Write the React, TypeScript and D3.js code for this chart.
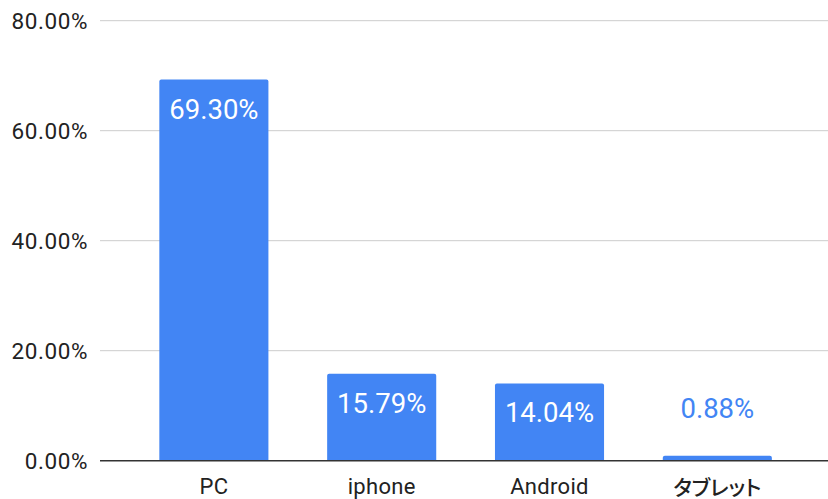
import React from "react";
import * as d3 from "d3";

const categories = ["PC", "iphone", "Android", "タブレット"];
const values = [69.3, 15.79, 14.04, 0.88];
const yTicks = [0, 20, 40, 60, 80];

const W = 828;
const H = 499;

export default function App() {
  const x = d3.scaleBand<string>().domain(categories).range([100.6, 830.6]).paddingInner(0.35).paddingOuter(0.35);
  const y = d3.scaleLinear().domain([0, 80]).range([460.7, 20.7]);
  const fmt = (v: number) => v.toFixed(2) + "%";
  const font = "Roboto, 'Noto Sans CJK JP', sans-serif";
  const r = 2;
  return (
    <svg width={W} height={H} style={{ position: "absolute", left: 0, top: 0, background: "#fff" }}>
      {yTicks.map((t) => (
        <g key={t}>
          {t !== 0 && <line x1={100} x2={828} y1={y(t)} y2={y(t)} stroke="#cccccc" strokeWidth={1} />}
          <text x={88} y={y(t)} dy="0.36em" textAnchor="end" fontFamily={font} fontSize={22.5} letterSpacing={0.6} fill="#222">
            {fmt(t)}
          </text>
        </g>
      ))}
      {categories.map((c, i) => {
        const x0 = x(c)!;
        const bw = x.bandwidth();
        const yt = y(values[i]);
        const yb = y(0);
        const h = yb - yt;
        const rr = Math.min(r, h);
        const path = `M${x0},${yb} L${x0},${yt + rr} Q${x0},${yt} ${x0 + rr},${yt} L${x0 + bw - rr},${yt} Q${x0 + bw},${yt} ${x0 + bw},${yt + rr} L${x0 + bw},${yb} Z`;
        const inside = h > 50;
        const cjk = /[^\x00-\x7f]/.test(c);
        return (
          <g key={c}>
            <path d={path} fill="#4285f4" />
            <text
              x={x0 + bw / 2}
              y={inside ? yt + 39 : yt - 37.6}
              textAnchor="middle"
              fontFamily={font}
              fontSize={27.5}
              fill={inside ? "#ffffff" : "#4285f4"}
            >
              {fmt(values[i])}
            </text>
            <text
              x={x0 + bw / 2}
              y={cjk ? 494.5 : 493.5}
              textAnchor="middle"
              fontFamily={cjk ? "'Noto Sans CJK JP', sans-serif" : font}
              fontSize={cjk ? 21 : 22}
              fontWeight={cjk ? 500 : 400}
              letterSpacing={cjk ? 0 : 0.3}
              style={cjk ? { fontFeatureSettings: "'palt'" } : undefined}
              fill="#222"
            >
              {c}
            </text>
          </g>
        );
      })}
      <line x1={100} x2={828} y1={y(0)} y2={y(0)} stroke="#333333" strokeWidth={1.5} />
    </svg>
  );
}
